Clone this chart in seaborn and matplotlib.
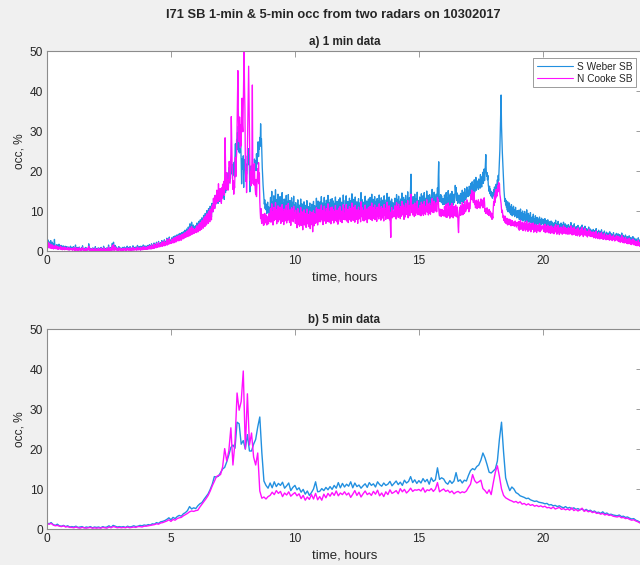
import numpy as np
import pandas as pd
import matplotlib
matplotlib.use("Agg")
import matplotlib.pyplot as plt
import seaborn as sns

RADARS = ["S Weber SB", "N Cooke SB"]
COLORS = {"S Weber SB": "#2290e0", "N Cooke SB": "#ff10ff"}
X_TICKS = [0, 5, 10, 15, 20]
Y_TICKS = [0, 10, 20, 30, 40, 50]

# 1-minute occupancy (%), one row of 60 samples per hour
weber_1min = [
    2.1,1.4,2.8,1.0,1.7,2.3,1.2,0.8,1.9,2.6, 1.1,1.5,0.9,2.2,1.3,0.7,1.8,1.0,2.9,1.2, 0.6,1.4,1.1,0.8,1.6,0.9,1.3,0.5,1.0,1.7, 0.8,1.2,0.6,0.9,1.4,0.7,1.1,0.5,0.8,1.3, 0.6,1.0,0.4,0.9,1.2,0.5,0.8,0.6,1.1,0.4, 0.7,0.9,0.5,1.0,0.3,0.8,0.6,1.2,0.4,0.7,
    0.5,0.9,0.3,0.7,1.1,0.4,0.6,0.2,0.8,1.5, 0.4,0.6,0.3,0.9,0.5,0.2,0.7,0.4,1.0,0.3, 0.6,0.2,0.5,0.8,0.3,0.4,1.3,0.5,0.2,0.6, 0.3,0.7,0.4,0.2,0.9,0.3,0.5,0.2,0.6,0.4, 0.3,1.8,0.5,0.3,0.7,0.2,0.4,0.6,0.3,0.5, 0.2,0.8,0.4,0.3,0.6,0.2,0.5,1.1,0.3,0.4,
    0.3,0.6,0.2,0.4,0.8,0.3,0.5,0.2,0.7,0.4, 0.3,0.9,0.2,0.5,0.3,0.6,0.2,1.2,0.4,0.3, 0.7,0.2,0.5,0.3,0.4,0.8,0.2,0.6,0.3,1.5, 0.4,0.2,0.7,0.3,0.5,0.9,0.2,0.4,1.9,0.6, 0.3,2.2,0.5,0.8,0.3,1.4,0.6,0.4,1.0,0.3, 0.7,0.5,0.2,0.6,1.1,0.4,0.3,0.8,0.5,0.2,
    0.4,0.7,0.3,0.9,0.5,0.2,0.6,1.0,0.4,0.3, 0.8,0.5,0.2,0.7,1.2,0.4,0.6,0.3,0.9,0.5, 0.4,1.1,0.3,0.7,0.5,0.2,0.8,0.4,1.3,0.6, 0.3,0.9,0.5,0.7,0.4,1.0,0.6,0.3,0.8,1.4, 0.5,0.7,0.4,1.1,0.6,0.9,0.3,1.2,0.7,0.5, 1.0,0.8,0.4,1.5,0.6,0.9,0.7,1.3,0.5,1.0,
    0.7,1.2,0.5,0.9,1.4,0.6,1.1,0.8,1.6,0.7, 1.0,1.3,0.6,1.8,0.9,1.2,0.7,1.5,1.0,2.0, 0.8,1.3,1.1,1.7,0.9,2.2,1.2,1.0,1.6,1.3, 2.4,1.1,1.5,1.8,1.2,2.1,1.4,1.7,2.6,1.3, 1.9,1.5,2.3,1.6,2.8,1.4,2.0,1.7,2.5,1.8, 3.2,1.6,2.2,2.9,1.9,2.4,3.5,2.0,2.6,2.2,
    2.8,2.1,3.3,2.5,3.0,2.3,3.6,2.7,3.1,2.4, 3.8,2.9,3.4,2.6,4.0,3.0,3.5,2.8,4.2,3.2, 3.7,3.0,4.4,3.3,3.9,3.1,4.6,3.5,4.1,3.4, 4.8,3.6,4.3,3.8,5.2,3.9,4.5,4.0,5.5,4.2, 4.8,4.1,6.0,4.4,5.0,4.3,6.8,4.6,5.3,4.5, 7.2,4.8,5.6,4.9,6.5,5.1,5.8,5.0,6.2,5.4,
    5.6,6.4,5.2,7.0,5.9,6.6,5.4,7.4,6.2,6.9, 5.8,7.8,6.5,7.2,6.1,8.3,6.8,7.6,6.4,8.9, 7.1,8.0,6.9,9.4,7.5,8.4,7.2,10.1,7.9,8.8, 7.6,10.6,8.3,9.3,8.0,11.2,8.8,9.8,8.5,11.9, 10.3,11.4,9.8,13.1,11.6,12.8,10.9,13.9,12.2,13.4, 12.0,14.6,12.5,13.7,11.9,15.3,12.8,14.1,12.4,14.8,
    13.2,15.1,12.4,14.6,13.8,14.3,16.2,13.5,15.7,12.9, 15.8,17.4,14.6,16.9,15.2,17.3,19.5,16.1,18.4,15.9, 18.7,20.9,17.2,19.6,18.1,20.4,22.8,19.3,21.6,20.0, 18.9,21.4,19.7,22.2,18.5,23.6,26.8,22.4,25.1,27.9, 25.3,29.6,26.4,31.2,24.8,27.7,24.5,28.3,25.9,26.2, 22.4,16.8,23.1,20.5,21.3,23.8,15.9,22.9,21.6,22.4,
    20.6,18.3,21.7,19.2,20.4,23.8,21.5,25.6,22.9,24.1, 19.7,14.8,20.8,18.6,21.3,19.6,17.8,21.2,18.3,20.4, 21.5,19.4,23.0,20.2,21.8,22.6,20.1,24.3,21.7,23.4, 24.9,27.3,23.6,26.1,25.4,28.4,26.2,31.8,27.5,28.1, 24.3,20.8,18.6,16.4,14.9,13.2,11.7,12.8,10.6,11.9, 10.3,11.6,9.4,10.9,12.2,9.8,11.1,10.4,9.2,10.7,
    10.8,13.4,9.2,11.6,14.9,10.1,12.3,8.7,11.0,13.8, 9.6,12.5,10.4,15.3,9.9,11.7,8.5,12.9,10.6,14.2, 9.1,11.3,12.8,9.7,13.6,10.2,8.8,11.9,10.5,14.6, 9.3,12.1,10.9,8.6,13.0,11.4,9.5,12.7,10.0,13.9, 8.9,11.2,12.4,9.8,14.1,10.7,11.8,9.0,12.6,10.3, 8.4,11.5,13.3,9.6,10.8,12.2,9.4,13.7,10.1,11.6,
    10.4,8.7,12.1,9.3,11.0,7.9,10.6,12.8,8.8,9.9, 11.5,8.2,10.7,9.4,13.0,8.5,10.1,11.8,9.0,7.6, 10.9,9.7,12.3,8.4,10.2,9.1,11.4,7.8,10.0,12.6, 8.9,9.6,11.1,8.1,10.5,9.3,12.0,7.7,9.8,10.8, 8.6,11.7,9.2,7.4,10.3,12.4,8.3,9.5,11.3,8.8, 10.6,9.0,13.2,9.9,11.0,8.5,12.5,10.2,9.4,11.9,
    10.7,12.3,9.1,11.5,13.6,9.8,10.9,12.0,8.6,11.2, 10.1,13.4,9.5,11.8,10.4,8.9,12.7,10.0,11.3,9.4, 13.9,10.6,12.1,9.2,11.0,10.5,12.9,8.8,11.6,10.2, 13.1,9.7,11.4,12.5,9.0,10.8,11.9,9.6,13.5,10.3, 11.1,9.3,12.4,10.7,8.7,11.7,12.8,9.9,10.5,13.3, 9.4,11.2,10.0,12.2,9.1,11.8,10.6,14.0,9.8,11.0,
    11.3,9.6,12.7,10.2,13.8,9.4,11.5,10.8,12.4,8.9, 11.9,10.1,13.2,9.7,11.0,12.6,9.3,10.7,14.3,10.0, 11.6,9.5,12.9,10.4,11.2,9.1,13.5,10.9,11.8,9.8, 12.3,10.3,8.8,11.4,13.1,9.9,12.0,10.6,11.7,9.2, 14.6,10.5,11.1,12.8,9.6,10.9,12.2,9.4,11.5,10.1, 13.7,9.7,11.9,10.8,12.5,9.0,11.3,10.4,13.0,9.9,
    11.6,10.2,13.4,9.8,12.1,11.0,14.2,9.5,11.7,10.6, 12.9,10.0,11.3,13.6,9.7,12.4,10.9,11.8,9.3,13.1, 10.5,12.6,11.2,9.9,14.0,10.7,12.2,11.5,9.6,13.3, 10.3,11.9,12.7,10.1,11.4,9.4,13.8,10.8,12.0,11.1, 9.8,12.8,10.4,14.4,11.6,10.0,12.3,11.0,13.5,9.7, 11.8,10.6,12.5,9.9,13.0,11.3,10.2,12.1,11.7,10.5,
    11.9,10.4,13.2,11.1,12.6,9.8,14.1,10.7,11.5,12.9, 10.2,13.7,11.3,10.6,12.4,9.9,13.0,11.8,10.5,14.5, 11.0,12.2,10.8,13.4,9.7,11.6,12.8,10.3,13.9,11.2, 10.9,12.5,11.4,14.8,10.1,12.0,11.7,13.3,10.6,12.7, 15.6,19.2,13.1,11.5,12.3,10.8,13.6,11.1,12.9,10.4, 14.2,11.8,10.7,13.0,12.1,11.3,14.7,10.9,12.6,11.5,
    12.2,10.8,13.5,11.4,12.9,10.6,14.3,11.9,12.4,11.1, 13.8,10.7,12.6,14.6,11.3,12.1,10.9,13.2,11.7,15.0, 12.0,11.5,13.9,10.8,12.7,11.2,14.1,12.5,11.0,13.4, 11.8,12.3,15.4,11.6,13.0,12.8,11.4,14.7,12.2,13.6, 11.9,12.9,14.2,11.7,13.3,15.8,13.0,18.6,22.3,14.4, 12.4,13.5,12.8,14.1,12.2,13.7,12.0,12.9,11.6,13.1,
    12.9,11.6,14.0,12.3,13.5,11.8,14.6,12.7,11.4,13.2, 12.0,15.1,11.9,13.8,12.5,11.2,14.3,12.8,13.1,11.7, 14.9,12.4,13.6,11.5,12.9,14.2,12.1,13.0,16.4,14.8, 15.9,13.3,12.6,14.5,11.9,13.4,12.7,14.0,12.2,13.7, 11.8,14.4,12.9,13.2,12.3,15.2,13.5,12.0,14.7,13.1, 12.5,15.6,13.8,12.8,14.1,13.3,16.0,14.2,15.3,13.6,
    14.8,13.9,16.2,14.5,15.7,13.6,16.9,15.1,14.2,17.3, 15.6,14.9,16.5,15.3,17.8,14.7,16.1,15.8,18.4,15.2, 16.7,15.9,17.5,16.3,15.4,18.0,16.8,17.2,15.7,19.1, 16.4,17.9,16.0,18.6,17.3,19.7,16.9,18.2,20.5,17.6, 19.3,21.8,24.1,20.2,18.7,19.6,17.8,18.9,16.5,15.8, 14.9,16.2,14.3,15.5,13.8,14.9,13.6,14.4,13.2,14.6,
    14.1,15.3,13.7,16.0,14.8,15.6,14.4,16.7,15.2,16.3, 17.8,16.5,18.9,17.6,20.4,22.7,25.3,29.6,33.8,39.0, 31.2,27.4,24.6,22.1,19.8,17.5,15.2,13.9,12.4,13.1, 11.5,12.7,10.9,11.8,10.2,12.3,9.8,11.4,10.6,12.0, 9.5,11.1,10.4,9.1,11.6,10.0,8.8,10.7,9.6,11.2, 9.0,10.3,8.6,9.8,10.9,8.9,9.5,8.3,10.1,9.2,
    9.8,8.4,10.2,7.9,9.1,8.6,10.5,7.7,8.9,9.6, 8.1,10.0,7.5,8.8,9.3,7.8,9.9,8.2,7.4,9.0, 8.5,10.3,7.6,8.7,7.2,9.4,8.0,7.3,8.9,7.7, 9.6,7.0,8.3,7.9,6.8,8.6,7.4,9.2,6.9,8.1, 7.5,6.6,8.8,7.1,7.8,6.5,8.4,7.3,6.9,8.0, 6.7,7.6,8.5,6.4,7.2,7.9,6.6,8.2,6.9,7.4,
    6.8,7.9,6.2,7.4,6.6,8.1,5.9,7.0,6.4,7.6, 5.8,6.9,7.8,6.1,6.7,5.7,7.3,6.3,6.9,5.5, 7.5,6.0,6.6,7.2,5.6,6.8,6.2,5.4,7.1,5.9, 6.5,7.7,5.8,6.3,5.3,6.9,6.0,7.4,5.7,6.4, 5.2,6.7,6.1,5.5,7.0,5.9,6.2,5.1,6.6,5.8, 7.2,5.4,6.0,5.7,6.8,5.3,6.3,5.6,6.5,5.0,
    5.9,5.1,6.6,4.8,5.7,6.2,4.9,5.4,7.1,5.0, 5.8,4.6,6.3,5.2,5.6,4.7,6.8,5.3,4.9,5.9, 4.5,6.1,5.0,5.5,4.4,6.4,5.1,4.8,5.7,4.3, 5.3,6.0,4.6,5.2,4.9,6.5,4.7,5.4,4.2,5.8, 5.0,4.6,6.2,4.8,5.1,4.4,5.6,4.9,4.1,5.3, 4.7,6.0,4.5,5.0,4.3,5.5,4.8,4.2,5.2,4.6,
    4.9,4.2,5.4,3.9,4.6,5.1,4.0,4.7,3.8,5.6, 4.3,4.0,4.8,3.7,4.5,5.2,3.9,4.4,3.6,4.9, 4.1,3.8,5.3,4.2,3.7,4.6,3.5,4.3,4.0,5.0, 3.6,4.2,3.9,3.4,4.7,3.8,4.1,3.5,4.5,3.7, 4.0,3.3,4.8,3.6,3.9,3.4,4.3,3.8,3.2,4.1, 3.5,4.6,3.4,3.7,3.1,4.0,3.6,3.3,4.4,3.5,
    3.8,3.2,4.3,3.0,3.6,2.9,4.1,3.3,2.8,3.7, 3.1,4.5,2.9,3.4,2.7,3.9,3.0,2.6,3.5,2.8, 4.0,2.7,3.2,2.5,3.6,2.9,2.4,3.3,2.6,3.8, 2.5,3.0,2.3,3.4,2.7,2.2,3.1,2.5,3.6,2.4, 2.8,2.1,3.2,2.3,2.7,2.0,3.0,2.4,1.9,2.6, 2.2,3.3,2.0,2.5,1.8,2.8,2.1,1.7,2.4,1.9,
]

cooke_1min = [
    1.6,1.1,2.2,0.8,1.4,1.9,0.9,1.3,0.7,1.7, 1.0,1.2,0.6,1.5,0.9,1.1,0.5,1.3,0.8,1.0, 0.6,1.4,0.7,0.9,0.5,1.1,0.8,0.4,1.0,0.6, 0.9,0.5,0.7,1.2,0.4,0.8,0.6,0.3,0.9,0.5, 0.7,0.4,1.0,0.3,0.6,0.8,0.4,0.5,0.7,0.3, 0.9,0.4,0.6,0.2,0.5,0.8,0.3,0.6,0.4,0.5,
    0.3,0.6,0.2,0.5,0.8,0.3,0.4,0.1,0.6,0.9, 0.2,0.4,0.3,0.7,0.2,0.5,0.1,0.4,0.8,0.3, 0.2,0.5,0.1,0.6,0.3,0.4,0.9,0.2,0.3,0.5, 0.1,0.4,0.2,0.6,0.3,0.1,0.5,0.2,0.7,0.3, 0.4,1.2,0.2,0.3,0.5,0.1,0.4,0.3,0.2,0.6, 0.1,0.5,0.3,0.2,0.4,0.1,0.3,0.7,0.2,0.3,
    0.2,0.4,0.1,0.3,0.6,0.2,0.3,0.1,0.5,0.2, 0.3,0.7,0.1,0.4,0.2,0.3,0.1,0.8,0.2,0.3, 0.5,0.1,0.3,0.2,0.4,0.6,0.1,0.3,0.2,1.0, 0.3,0.1,0.5,0.2,0.4,0.7,0.1,0.3,1.3,0.4, 0.2,1.6,0.3,0.6,0.2,1.0,0.4,0.3,0.7,0.2, 0.5,0.3,0.1,0.4,0.8,0.3,0.2,0.6,0.3,0.1,
    0.3,0.5,0.2,0.6,0.3,0.1,0.4,0.7,0.3,0.2, 0.5,0.3,0.1,0.5,0.8,0.3,0.4,0.2,0.6,0.3, 0.2,0.8,0.2,0.5,0.3,0.1,0.6,0.3,0.9,0.4, 0.2,0.6,0.3,0.5,0.3,0.7,0.4,0.2,0.6,1.0, 0.3,0.5,0.3,0.8,0.4,0.6,0.2,0.9,0.5,0.3, 0.7,0.6,0.3,1.1,0.4,0.7,0.5,1.0,0.4,0.8,
    0.5,0.9,0.4,0.7,1.1,0.5,0.8,0.6,1.3,0.5, 0.8,1.0,0.5,1.5,0.7,1.0,0.6,1.2,0.8,1.7, 0.7,1.1,0.9,1.4,0.8,1.9,1.0,0.9,1.4,1.1, 2.1,1.0,1.3,1.6,1.1,1.8,1.2,1.5,2.3,1.2, 1.7,1.3,2.0,1.4,2.5,1.3,1.8,1.5,2.2,1.6, 2.9,1.5,2.0,2.6,1.7,2.2,3.1,1.8,2.4,2.0,
    2.4,1.9,2.9,2.2,2.7,2.0,3.2,2.4,2.8,2.1, 3.4,2.6,3.0,2.3,3.6,2.7,3.1,2.5,3.8,2.8, 3.3,2.6,3.9,2.9,3.5,2.7,4.1,3.1,3.7,3.0, 4.3,3.2,3.8,3.3,4.6,3.4,4.0,3.5,4.9,3.7, 4.2,3.6,5.3,3.9,4.4,3.8,5.8,4.0,4.6,4.1, 6.1,4.2,4.8,4.3,5.6,4.4,5.0,4.5,5.4,4.7,
    5.0,5.8,4.6,6.3,5.3,5.9,4.8,6.7,5.5,6.2, 5.1,7.1,5.8,6.5,5.4,7.6,6.1,6.9,5.7,8.2, 6.4,7.3,6.1,8.7,6.8,7.7,6.5,9.3,7.2,8.1, 6.9,9.9,7.6,8.6,7.3,10.5,8.0,9.1,7.8,11.2, 9.8,11.6,9.9,13.2,11.0,12.4,10.6,13.9,12.1,13.0, 11.8,15.2,12.6,14.0,12.3,16.8,13.1,14.9,12.7,15.6,
    12.8,14.5,11.9,15.8,13.2,16.7,14.6,15.1,17.4,13.9, 18.2,28.3,22.0,16.1,15.3,19.6,16.4,17.8,15.2,17.0, 18.1,22.4,19.4,16.9,20.5,24.2,33.6,27.9,21.5,19.3, 15.4,17.6,14.2,16.9,15.8,19.8,23.4,18.6,22.7,24.5, 31.2,38.6,45.1,35.4,29.7,27.3,33.5,30.2,25.8,31.6, 26.4,34.7,38.2,31.5,29.8,36.9,44.3,50.0,41.2,35.6,
    22.1,17.4,19.8,14.6,18.3,25.6,32.4,39.8,46.2,37.5, 28.1,21.4,17.6,19.9,16.3,18.4,22.7,41.5,21.2,16.8, 19.3,16.5,21.8,17.2,15.4,14.1,17.9,13.6,16.4,18.2, 20.6,17.3,22.1,16.8,19.5,12.4,9.8,8.1,10.6,7.5, 6.9,8.7,7.3,9.2,6.4,8.1,6.6,9.4,7.0,8.5, 7.2,9.0,6.5,8.3,7.7,8.6,6.8,9.3,7.4,8.0,
    8.9,10.6,7.2,9.4,11.8,8.1,9.7,6.5,8.8,10.9, 7.6,9.3,8.2,12.1,7.9,9.0,6.8,10.4,8.5,11.3, 7.3,9.1,10.2,7.8,11.0,8.4,6.9,9.6,8.0,11.6, 7.4,9.8,8.7,6.6,10.5,9.2,7.5,10.1,8.3,11.4, 7.0,9.5,10.0,7.7,11.9,8.6,9.4,7.1,10.3,8.1, 6.4,9.2,10.8,7.6,8.9,10.4,7.3,11.2,8.2,9.6,
    8.7,6.9,10.2,7.5,9.1,5.8,8.4,10.6,6.7,7.9, 9.5,6.2,8.8,7.3,10.9,6.4,8.1,9.8,7.0,5.3, 8.9,7.6,10.3,6.5,8.2,7.1,9.4,5.9,8.0,10.5, 6.8,7.7,9.2,6.1,8.6,7.4,10.0,5.6,7.8,8.9, 6.6,9.7,7.2,4.8,8.3,10.1,6.3,7.5,9.3,6.9, 8.5,7.0,10.8,7.9,9.0,6.5,10.4,8.1,7.3,9.6,
    8.9,10.4,7.3,9.6,11.5,7.8,8.7,10.1,6.6,9.2, 8.1,11.2,7.5,9.7,8.4,6.9,10.6,8.0,9.3,7.4, 11.8,8.6,10.0,7.2,9.0,8.3,10.8,6.8,9.5,8.2, 11.0,7.7,9.4,10.3,7.0,8.8,9.9,7.6,11.4,8.5, 9.1,7.3,10.2,8.7,6.7,9.8,10.7,8.0,8.6,11.1, 7.4,9.3,8.1,10.0,7.1,9.7,8.4,11.6,7.9,9.0,
    9.4,7.8,10.7,8.3,11.6,7.5,9.6,8.9,10.4,7.1, 9.9,8.2,11.1,7.8,9.1,10.6,7.4,8.8,12.0,8.1, 9.7,7.6,10.9,8.5,9.3,7.2,11.4,9.0,9.8,7.9, 10.3,8.4,6.9,9.5,11.0,8.0,10.1,8.7,9.6,7.3, 12.3,8.6,9.2,10.8,7.7,9.0,10.2,7.5,9.6,8.2, 11.5,7.8,10.0,8.9,10.5,7.1,9.4,8.5,10.9,8.0,
    9.7,8.3,11.2,7.9,10.1,9.0,12.0,7.6,9.8,8.7, 10.8,8.1,9.4,11.5,7.8,10.3,8.9,9.9,7.4,11.0, 8.6,10.6,9.3,8.0,11.8,8.8,10.2,9.5,7.7,11.1, 8.4,9.9,10.7,8.2,9.5,7.5,11.6,8.9,10.0,9.2, 7.9,10.8,8.5,12.2,9.6,8.1,10.3,9.0,11.3,7.8, 9.7,6.2,3.4,8.0,10.9,9.3,8.3,10.1,9.7,8.6,
    10.0,8.6,11.3,9.2,10.7,8.0,12.1,8.9,9.6,11.0, 8.4,11.7,9.4,8.8,10.5,8.1,11.1,9.9,8.7,12.4, 9.2,10.3,9.0,11.5,7.9,9.8,10.9,8.5,11.9,9.4, 9.1,10.6,9.6,12.6,8.3,10.1,9.8,11.4,8.8,10.8, 12.9,14.2,11.2,9.6,10.4,9.0,11.6,9.3,10.9,8.6, 12.0,9.9,8.9,11.0,10.2,9.5,12.5,9.1,10.7,9.7,
    10.3,9.0,11.4,9.6,10.9,8.8,12.2,10.0,10.5,9.3, 11.7,8.9,10.6,12.4,9.5,10.2,9.1,11.2,9.8,12.8, 10.1,9.7,11.8,9.0,10.7,9.4,12.0,10.5,9.2,11.3, 9.9,10.4,13.1,9.7,11.0,10.8,9.6,12.5,10.3,11.5, 10.0,10.9,12.1,9.8,11.2,13.4,11.9,12.8,10.7,9.4, 8.8,10.5,9.1,10.2,8.6,9.9,10.4,8.9,9.5,10.1,
    10.0,8.7,11.1,9.3,10.6,8.5,11.7,9.6,8.4,10.3, 9.1,12.0,8.8,10.8,9.5,8.2,11.4,9.8,10.1,8.6, 11.9,9.4,10.5,8.3,9.9,11.2,9.0,10.0,8.7,11.5, 9.3,10.6,8.5,11.0,9.2,6.1,4.6,8.0,9.7,10.9, 8.9,11.3,9.5,10.2,9.0,12.1,10.4,9.1,11.6,10.0, 9.4,12.4,10.7,9.8,11.1,10.3,12.8,11.0,12.2,10.6,
    10.9,9.8,12.0,10.5,11.3,12.6,14.1,13.0,15.2,12.8, 14.5,13.3,12.1,14.8,13.9,11.6,12.4,10.8,11.9,12.7, 11.1,10.6,12.3,11.5,12.8,10.9,11.4,12.2,10.7,11.8, 13.0,11.5,12.9,11.2,12.4,10.8,12.6,11.9,13.3,12.1, 9.8,10.6,9.4,10.3,9.9,10.8,9.2,10.1,9.6,8.9, 10.4,9.3,10.0,8.7,9.1,8.4,9.5,7.9,8.8,8.2,
    10.6,12.3,11.4,13.8,12.1,14.6,13.2,15.4,14.0,13.7, 15.1,16.3,14.8,17.2,15.5,16.8,14.2,13.5,12.6,11.8, 10.4,9.6,10.2,9.1,8.3,8.9,7.6,8.4,7.2,8.7, 7.0,7.9,6.8,8.2,7.4,6.5,7.7,7.1,8.0,6.6, 7.5,6.9,7.8,6.3,7.2,6.7,7.6,6.4,7.0,6.8, 7.3,6.2,6.9,7.5,6.5,7.1,6.0,6.8,7.2,6.4,
    6.8,5.6,7.4,5.2,6.5,6.0,7.7,5.4,6.2,7.0, 5.7,7.2,5.1,6.4,6.9,5.5,7.3,5.9,5.0,6.7, 6.1,7.5,5.3,6.3,4.9,6.8,5.8,5.2,7.1,5.6, 6.6,4.8,6.0,6.9,5.4,6.2,5.7,7.0,4.7,6.4, 5.5,4.9,6.7,5.3,6.0,4.6,6.5,5.8,5.1,6.3, 5.0,6.1,6.8,4.8,5.6,6.4,5.2,6.0,5.5,5.9,
    5.6,6.4,4.9,6.0,5.2,6.7,4.6,5.8,5.3,6.2, 4.7,5.5,6.5,4.9,5.4,4.5,6.1,5.1,5.7,4.4, 6.3,4.8,5.5,6.0,4.5,5.6,5.0,4.3,6.2,4.8, 5.3,6.6,4.7,5.2,4.2,5.9,5.0,6.4,4.6,5.4, 4.1,5.8,5.1,4.5,6.0,4.9,5.3,4.2,5.7,4.8, 6.3,4.4,5.1,4.7,5.9,4.3,5.4,4.8,5.6,4.2,
    5.2,4.4,5.9,4.2,5.0,5.6,4.3,4.8,6.3,4.5, 5.2,4.0,5.7,4.6,5.0,4.1,6.0,4.7,4.3,5.3, 3.9,5.5,4.4,4.9,3.8,5.8,4.5,4.2,5.1,3.7, 4.8,5.4,4.0,4.6,4.3,5.9,4.1,4.9,3.6,5.2, 4.4,4.0,5.6,4.2,4.6,3.8,5.0,4.3,3.5,4.8, 4.1,5.4,3.9,4.5,3.7,5.0,4.2,3.6,4.7,4.0,
    4.3,3.6,4.8,3.3,4.0,4.6,3.4,4.1,3.2,5.0, 3.7,3.4,4.2,3.1,3.9,4.6,3.3,3.8,3.0,4.3, 3.5,3.2,4.7,3.6,3.1,4.0,2.9,3.7,3.4,4.4, 3.0,3.6,3.3,2.8,4.1,3.2,3.5,2.9,3.9,3.1, 3.4,2.7,4.2,3.0,3.3,2.8,3.7,3.2,2.6,3.5, 2.9,4.0,2.8,3.1,2.5,3.4,3.0,2.7,3.8,2.9,
    3.2,2.6,3.7,2.4,3.0,2.3,3.5,2.7,2.2,3.1, 2.5,3.9,2.3,2.8,2.1,3.3,2.4,2.0,2.9,2.2, 3.4,2.1,2.6,1.9,3.0,2.3,1.8,2.7,2.0,3.2, 1.9,2.4,1.7,2.8,2.1,1.6,2.5,1.9,3.0,1.8, 2.2,1.5,2.6,1.7,2.1,1.4,2.4,1.8,1.3,2.0, 1.6,2.7,1.4,1.9,1.2,2.2,1.5,1.1,1.8,1.3,
]

# 5-minute occupancy (%), one row of 12 samples per hour
weber_5min = [
    1.5,1.3,1.6,1.1,0.9,1.2,0.8,0.7,0.9,0.6,0.8,0.5,
    0.6,0.5,0.7,0.4,0.5,0.6,0.3,0.5,0.4,0.6,0.3,0.5,
    0.4,0.5,0.3,0.6,0.4,0.5,0.8,0.4,0.9,0.7,0.5,0.6,
    0.5,0.6,0.4,0.7,0.5,0.6,0.8,0.6,0.7,0.9,0.8,1.0,
    0.9,1.1,1.0,1.3,1.2,1.6,1.4,1.8,1.9,2.1,2.4,2.8,
    2.3,2.9,2.6,3.1,3.4,3.2,3.8,4.1,4.6,5.6,5.0,5.3,
    5.1,5.8,6.3,6.6,7.4,8.1,8.8,9.9,11.2,13.1,13.0,13.2,
    14.1,15.0,15.4,16.8,18.5,20.4,21.0,20.2,26.7,26.3,21.2,22.1,
    20.0,23.6,19.5,19.5,21.2,22.4,25.5,28.0,19.0,12.0,10.9,10.2,
    11.5,10.3,11.8,10.6,11.4,10.9,11.7,10.2,10.8,11.5,9.6,10.4,
    10.9,9.8,10.3,9.2,9.9,8.7,9.5,8.4,9.1,10.0,11.8,9.3,
    9.4,10.1,9.6,10.4,9.8,10.6,9.9,10.9,10.2,11.6,10.3,11.4,
    10.5,11.2,10.7,11.8,10.3,11.5,10.6,11.0,10.2,10.8,11.3,10.4,
    11.6,10.9,11.3,10.5,11.8,11.1,10.7,11.5,10.9,11.2,11.9,10.8,
    11.4,12.0,11.1,11.7,10.9,12.2,11.5,11.9,13.1,11.6,12.3,11.4,
    12.1,11.5,12.6,11.8,12.4,11.2,12.8,11.9,12.3,15.3,12.4,12.8,
    12.5,11.6,11.2,12.1,11.4,12.0,14.1,11.9,12.3,11.5,12.2,12.0,
    13.4,14.6,15.1,14.8,15.6,16.0,17.2,19.0,17.8,16.1,14.2,14.0,
    14.5,15.0,17.0,22.5,26.7,19.2,12.8,11.0,9.6,10.5,10.0,9.1,
    8.8,8.3,8.1,7.9,7.6,7.7,7.3,7.1,6.9,7.0,6.7,6.6,
    6.5,6.3,6.4,6.0,6.1,5.8,5.9,5.6,5.8,5.5,5.3,5.6,
    5.2,5.4,5.0,5.3,4.9,5.1,4.8,5.0,4.6,4.9,4.5,4.7,
    4.3,4.5,4.1,4.2,3.9,4.3,3.8,4.0,3.6,3.7,3.5,3.4,
    3.3,3.5,3.1,3.2,2.9,3.0,2.7,2.5,2.6,2.2,2.0,1.7,
]

cooke_5min = [
    1.3,1.2,1.4,1.0,0.8,0.9,0.7,0.6,0.8,0.5,0.6,0.4,
    0.4,0.3,0.5,0.3,0.2,0.4,0.3,0.2,0.3,0.4,0.2,0.3,
    0.2,0.3,0.2,0.4,0.3,0.2,0.5,0.3,0.6,0.5,0.3,0.4,
    0.3,0.4,0.3,0.5,0.3,0.4,0.5,0.4,0.6,0.6,0.5,0.7,
    0.7,0.8,0.9,1.0,1.1,1.3,1.2,1.5,1.6,1.8,2.0,2.3,
    1.9,2.4,2.2,2.6,2.8,2.9,3.3,3.6,3.9,4.3,4.5,4.4,
    4.6,4.7,5.5,6.2,6.9,7.6,8.4,9.5,10.8,11.9,13.1,13.4,
    13.6,15.5,20.1,17.0,19.5,25.3,16.0,21.8,34.0,29.7,31.9,39.5,
    20.0,33.8,21.0,24.0,18.0,16.0,19.0,9.5,7.7,8.0,7.5,8.1,
    8.4,9.2,8.6,9.6,8.9,9.4,8.1,9.0,8.5,9.3,8.2,8.7,
    9.1,8.3,8.8,7.6,8.4,7.2,8.0,7.4,8.6,7.5,8.9,7.3,
    8.1,7.2,8.7,7.8,8.9,8.2,9.1,8.4,9.5,8.3,9.0,8.6,
    9.3,8.5,9.0,7.9,8.7,9.6,8.4,9.2,8.0,8.8,9.5,8.6,
    9.0,8.4,9.4,8.7,9.7,8.3,9.0,8.1,9.3,8.6,9.8,8.9,
    9.2,9.6,8.8,10.1,9.3,9.9,9.0,9.5,10.2,9.4,9.8,9.7,
    9.9,9.5,10.3,9.2,9.8,9.6,10.1,9.4,10.0,11.6,9.3,9.7,
    10.0,9.4,9.7,9.1,9.5,8.8,9.2,9.4,9.0,9.3,9.1,9.5,
    10.4,11.2,13.6,12.1,11.5,11.8,12.2,10.1,9.6,8.9,9.8,8.6,
    11.5,14.2,15.8,13.1,10.0,8.4,7.8,7.5,7.2,7.0,6.7,6.9,
    6.5,6.8,6.2,6.4,6.0,6.3,5.9,6.1,5.7,5.9,5.6,5.8,
    5.5,5.7,5.3,5.4,5.1,5.5,5.0,5.2,5.4,4.9,5.1,4.8,
    5.0,4.7,5.3,4.6,4.9,4.5,4.8,5.2,4.4,4.7,4.3,4.5,
    4.1,4.3,3.9,4.0,3.7,3.9,3.5,3.7,3.4,3.5,3.2,3.1,
    3.0,3.2,2.8,2.9,2.6,2.7,2.4,2.2,2.3,2.0,1.8,1.5,
]


def long_frame(samples_per_hour, weber, cooke):
    parts = []
    for name, values in zip(RADARS, (weber, cooke)):
        parts.append(pd.DataFrame({
            "time": np.arange(len(values)) / samples_per_hour,
            "occ": values,
            "radar": name,
        }))
    return pd.concat(parts, ignore_index=True)


df_1min = long_frame(60, weber_1min, cooke_1min)
df_5min = long_frame(12, weber_5min, cooke_5min)

sns.set_style("white")
plt.rcParams["font.family"] = ["Liberation Sans", "DejaVu Sans"]

EDGE = "#8c8c8c"
TEXT = "#262626"
W, H = 640, 565

fig = plt.figure(figsize=(W / 100, H / 100), dpi=100, facecolor="#f0f0f0")
ax1 = fig.add_axes([47 / W, 1 - 251 / H, 595 / W, 200 / H])
ax2 = fig.add_axes([47 / W, 1 - 529 / H, 595 / W, 200 / H])

sns.lineplot(data=df_1min, x="time", y="occ", hue="radar", hue_order=RADARS,
             palette=COLORS, estimator=None, sort=False, linewidth=0.95, ax=ax1)
sns.lineplot(data=df_5min, x="time", y="occ", hue="radar", hue_order=RADARS,
             palette=COLORS, estimator=None, sort=False, linewidth=1.0,
             legend=False, ax=ax2)

for ax, title in ((ax1, "a) 1 min data"), (ax2, "b) 5 min data")):
    ax.set_facecolor("white")
    ax.set_xlim(0, 24)
    ax.set_ylim(0, 50)
    ax.set_xticks(X_TICKS)
    ax.set_yticks(Y_TICKS)
    ax.tick_params(direction="in", length=4, width=0.6, color=EDGE,
                   labelcolor=TEXT, labelsize=8.6, top=True, right=True, pad=3)
    for spine in ax.spines.values():
        spine.set_visible(True)
        spine.set_color(EDGE)
        spine.set_linewidth(0.8)
    ax.set_xlabel("time, hours", fontsize=9.5, color=TEXT, labelpad=3)
    ax.set_ylabel("occ, %", fontsize=8.6, color=TEXT, labelpad=3)
    ax.set_title(title, fontsize=8.4, fontweight="bold", color=TEXT, pad=4)

handles, labels = ax1.get_legend_handles_labels()
leg = ax1.legend(handles, labels, loc="upper right", bbox_to_anchor=(0.99, 0.965),
                 borderaxespad=0, fontsize=7.3, frameon=True, fancybox=False,
                 framealpha=1, edgecolor=EDGE, handlelength=3.6, handletextpad=0.35,
                 borderpad=0.35, labelspacing=0.2)
leg.get_frame().set_linewidth(0.6)
for line in leg.get_lines():
    line.set_linewidth(0.8)

fig.text(333 / W, 1 - 15 / H, "I71 SB 1-min & 5-min occ from two radars on 10302017",
         ha="center", va="center", fontsize=9.3, fontweight="bold", color=TEXT)

fig.savefig("out.png", dpi=100, facecolor=fig.get_facecolor())
